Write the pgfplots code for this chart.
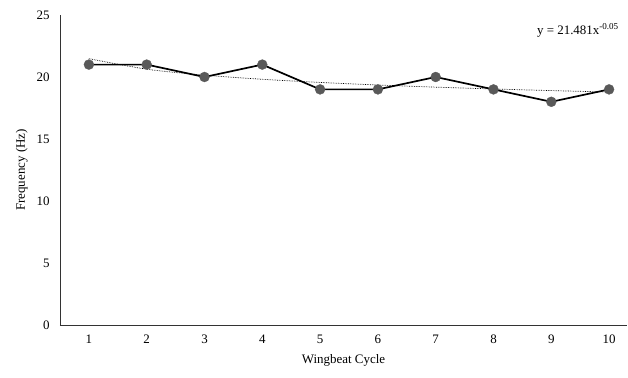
\documentclass[border=0pt]{standalone}
\usepackage{pgfplots}
\pgfplotsset{compat=1.18}
\usepackage{fontspec}
\setmainfont{Liberation Serif}
\begin{document}
\begin{tikzpicture}
\begin{axis}[
  scale only axis, width=567bp, height=310bp,
  xmin=0.5, xmax=10.31, ymin=0, ymax=25,
  axis lines=left, axis line style={-, line width=0.8pt, black!80},
  xtick={1,...,10}, ytick={0,5,...,25},
  major tick length=0pt,
  tick label style={font=\fontsize{13}{15}\selectfont},
  /pgf/number format/assume math mode=true,
  xticklabel style={yshift=-6bp},
  yticklabel style={xshift=-7bp},
  xlabel={Wingbeat Cycle}, ylabel={Frequency (Hz)},
  label style={font=\fontsize{13}{15}\selectfont},
  xlabel style={yshift=-4bp},
  ylabel style={yshift=2bp},
  clip=false,
]
\coordinate (o) at (rel axis cs:0,0);
\addplot[black, line width=0.7pt, densely dotted, smooth] coordinates {
(1,21.481) (2,20.632) (3,20.151) (4,19.817) (5,19.562) (6,19.355) (7,19.182) (8,19.034) (9,18.904) (10,18.788)};
\addplot[black, line width=1.7pt, mark=*, mark size=5bp, mark options={solid, fill=black!65, draw=black!65, line width=0.3pt}] coordinates {
(1,21) (2,21) (3,20) (4,21) (5,19) (6,19) (7,20) (8,19) (9,18) (10,19)};
\node[anchor=base west, font=\fontsize{13}{15}\selectfont, inner sep=0pt] at (axis cs:8.75,23.45) {y = 21.481x\textsuperscript{-0.05}};
\end{axis}
\pgfresetboundingbox
\path[use as bounding box] ([xshift=-60bp,yshift=-53bp]o) rectangle ([xshift=568bp,yshift=325bp]o);
\end{tikzpicture}
\end{document}
